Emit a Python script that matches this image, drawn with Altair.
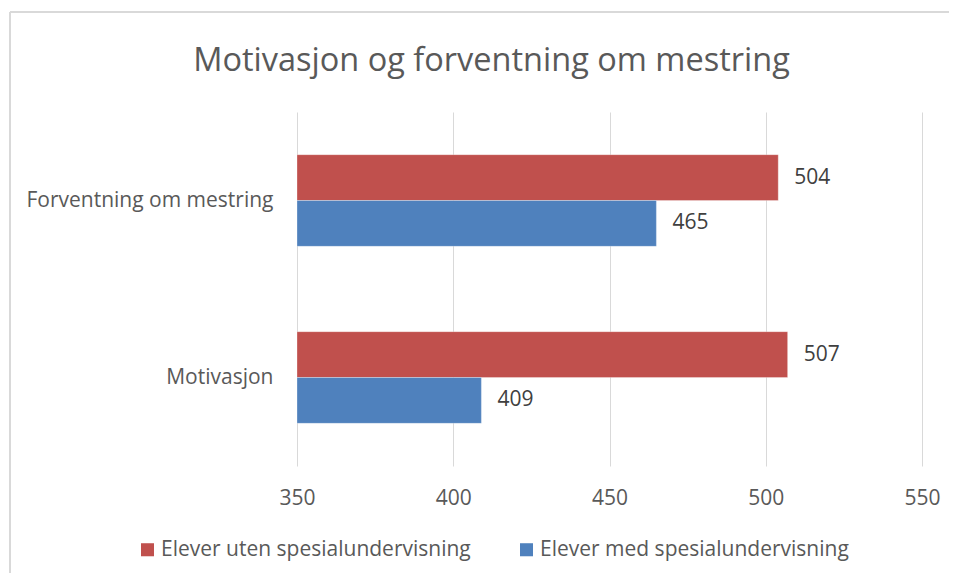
import altair as alt
import pandas as pd

categories = ["Forventning om mestring", "Motivasjon"]
series = ["Elever uten spesialundervisning", "Elever med spesialundervisning"]
uten_values = [504, 507]
med_values = [465, 409]
x_ticks = [350, 400, 450, 500, 550]
colors = ["#C0504D", "#4F81BD"]

rows = []
for i, c in enumerate(categories):
    rows.append({"kategori": c, "serie": series[0], "verdi": uten_values[i]})
    rows.append({"kategori": c, "serie": series[1], "verdi": med_values[i]})
df = pd.DataFrame(rows)

FONT = "Open Sans"

x_enc = alt.X("verdi:Q",
              scale=alt.Scale(domain=[350, 550], nice=False, zero=False, clamp=True),
              axis=alt.Axis(values=x_ticks, title=None, domain=False, ticks=False,
                            grid=True, gridColor="#d9d9d9", gridWidth=1,
                            labelFontSize=21, labelColor="#595959", labelFont=FONT,
                            labelPadding=21, labelFlush=False))
y_enc = alt.Y("kategori:N", sort=categories,
              scale=alt.Scale(paddingInner=0.482, paddingOuter=0.241),
              axis=alt.Axis(title=None, domain=False, ticks=False, grid=False,
                            labelFontSize=21, labelColor="#595959", labelFont=FONT,
                            labelPadding=24, labelLimit=400))
yoff = alt.YOffset("serie:N", sort=series, scale=alt.Scale(paddingInner=0, paddingOuter=0))

base = alt.Chart(df)

bars = base.mark_bar(stroke="white", strokeWidth=0.5, strokeOpacity=0.6).encode(
    x=x_enc, y=y_enc, yOffset=yoff,
    color=alt.Color("serie:N", sort=series,
                    scale=alt.Scale(domain=series, range=colors),
                    legend=alt.Legend(title=None, orient="none", direction="horizontal",
                                      legendX=-160, legendY=427,
                                      symbolType="square", symbolSize=170,
                                      symbolStrokeWidth=0, labelFontSize=21,
                                      labelColor="#595959", labelFont=FONT,
                                      labelLimit=400, columnPadding=45, labelOffset=3)),
)

labels = base.mark_text(align="left", baseline="middle", dx=16, fontSize=21,
                        color="#404040", font=FONT).encode(
    x=alt.X("verdi:Q"), y=alt.Y("kategori:N", sort=categories), yOffset=yoff,
    text=alt.Text("verdi:Q"),
)

border_top = alt.Chart(pd.DataFrame({"a": [0]})).mark_rule(color="#d9d9d9", strokeWidth=2).encode(
    x=alt.value(-287), x2=alt.value(700), y=alt.value(-100))
border_left = alt.Chart(pd.DataFrame({"a": [0]})).mark_rule(color="#d9d9d9", strokeWidth=2).encode(
    x=alt.value(-287), y=alt.value(-100), y2=alt.value(500))

chart = alt.layer(border_top, border_left, bars, labels).properties(
    width=625, height=354,
    autosize=alt.AutoSizeParams(type="none"),
    padding={"left": 289, "top": 104, "right": 27, "bottom": 107},
    title=alt.TitleParams("Motivasjon og forventning om mestring", fontSize=32.5,
                          font=FONT, fontWeight="normal", color="#595959",
                          anchor="middle", dx=-118, offset=28, dy=94),
).configure_view(stroke=None)

chart.save("out.html", embed_options={"renderer": "svg", "actions": False})
